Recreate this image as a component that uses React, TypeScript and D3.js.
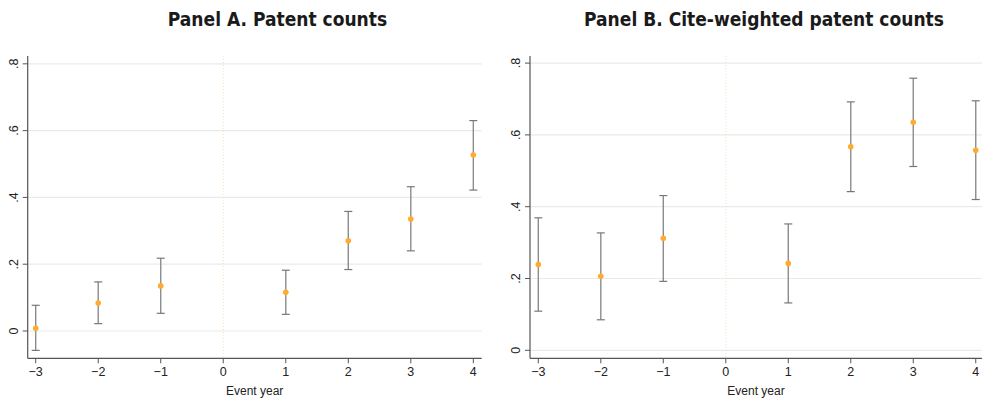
import React from "react";
import * as d3 from "d3";

const eventYears = [-3, -2, -1, 1, 2, 3, 4];
const xTicks = [-3, -2, -1, 0, 1, 2, 3, 4];
const yTicks = [0, 0.2, 0.4, 0.6, 0.8];
const yTickLabels = ["0", ".2", ".4", ".6", ".8"];

const panelATitle = "Panel A. Patent counts";
const panelAEst = [0.008, 0.084, 0.135, 0.116, 0.27, 0.335, 0.527];
const panelALow = [-0.058, 0.022, 0.053, 0.05, 0.184, 0.24, 0.422];
const panelAHigh = [0.077, 0.147, 0.218, 0.182, 0.358, 0.432, 0.63];

const panelBTitle = "Panel B. Cite-weighted patent counts";
const panelBEst = [0.239, 0.206, 0.312, 0.242, 0.567, 0.635, 0.557];
const panelBLow = [0.109, 0.085, 0.192, 0.132, 0.442, 0.512, 0.42];
const panelBHigh = [0.369, 0.327, 0.431, 0.352, 0.692, 0.758, 0.695];

const W = 985;
const H = 402;

type PanelProps = {
  title: string;
  est: number[];
  low: number[];
  high: number[];
  left: number;
  right: number;
  top: number;
  bottom: number;
  xDom: [number, number];
  yDom: [number, number];
  titleX: number;
};

const minus = (v: number) => (v < 0 ? "\u2212" + Math.abs(v) : String(v));

function Panel(p: PanelProps) {
  const x = d3.scaleLinear().domain(p.xDom).range([p.left, p.right]);
  const y = d3.scaleLinear().domain(p.yDom).range([p.bottom, p.top]);
  const font = "'Liberation Sans', Arial, sans-serif";
  const cap = 4;
  return (
    <g>
      <text
        x={p.titleX}
        y={26}
        textAnchor="middle"
        fontFamily="'DejaVu Sans Condensed', 'DejaVu Sans', sans-serif"
        fontWeight="bold"
        fontSize={19}
        fill="#1a1a1a"
      >
        {p.title}
      </text>
      {yTicks.map((t) => (
        <line
          key={"g" + t}
          x1={p.left}
          x2={p.right}
          y1={y(t)}
          y2={y(t)}
          stroke="#eaeaea"
          strokeWidth={1.2}
        />
      ))}
      <line
        x1={x(0)}
        x2={x(0)}
        y1={p.top}
        y2={p.bottom}
        stroke="#f7d6ad"
        strokeWidth={0.8}
        strokeDasharray="1 2"
      />
      <line x1={p.left} x2={p.left} y1={p.top} y2={p.bottom} stroke="#555" strokeWidth={1.2} />
      <line x1={p.left} x2={p.right} y1={p.bottom} y2={p.bottom} stroke="#555" strokeWidth={1.2} />
      {yTicks.map((t, i) => (
        <g key={"yt" + t}>
          <line x1={p.left - 5} x2={p.left} y1={y(t)} y2={y(t)} stroke="#555" strokeWidth={1} />
          <text
            transform={`translate(${p.left - 10},${y(t)}) rotate(-90)`}
            textAnchor="middle"
            fontFamily={font}
            fontSize={12.5}
            fill="#222"
          >
            {yTickLabels[i]}
          </text>
        </g>
      ))}
      {xTicks.map((t) => (
        <g key={"xt" + t}>
          <line x1={x(t)} x2={x(t)} y1={p.bottom} y2={p.bottom + 5} stroke="#555" strokeWidth={1} />
          <text x={x(t)} y={p.bottom + 17.5} textAnchor="middle" fontFamily={font} fontSize={12.5} fill="#222">
            {minus(t)}
          </text>
        </g>
      ))}
      <text
        x={(p.left + p.right) / 2}
        y={p.bottom + 37}
        textAnchor="middle"
        fontFamily={font}
        fontSize={12}
        fill="#222"
      >
        Event year
      </text>
      {eventYears.map((e, i) => (
        <g key={"e" + e}>
          <line x1={x(e)} x2={x(e)} y1={y(p.low[i])} y2={y(p.high[i])} stroke="#8c8c8c" strokeWidth={1.4} />
          <line x1={x(e) - cap} x2={x(e) + cap} y1={y(p.low[i])} y2={y(p.low[i])} stroke="#777" strokeWidth={1.2} />
          <line x1={x(e) - cap} x2={x(e) + cap} y1={y(p.high[i])} y2={y(p.high[i])} stroke="#777" strokeWidth={1.2} />
          <circle cx={x(e)} cy={y(p.est[i])} r={2.8} fill="#ffab2e" />
        </g>
      ))}
    </g>
  );
}

export default function App() {
  return (
    <svg
      width={W}
      height={H}
      style={{ position: "absolute", left: 0, top: 0, background: "#fff" }}
    >
      <rect width={W} height={H} fill="#fff" />
      <Panel
        title={panelATitle}
        est={panelAEst}
        low={panelALow}
        high={panelAHigh}
        left={27.7}
        right={481.7}
        top={56}
        bottom={358.3}
        xDom={[-3.128, 4.134]}
        yDom={[-0.0817, 0.8234]}
        titleX={277.5}
      />
      <Panel
        title={panelBTitle}
        est={panelBEst}
        low={panelBLow}
        high={panelBHigh}
        left={530}
        right={982}
        top={56}
        bottom={358.3}
        xDom={[-3.133, 4.1]}
        yDom={[-0.0223, 0.8198]}
        titleX={764}
      />
    </svg>
  );
}
